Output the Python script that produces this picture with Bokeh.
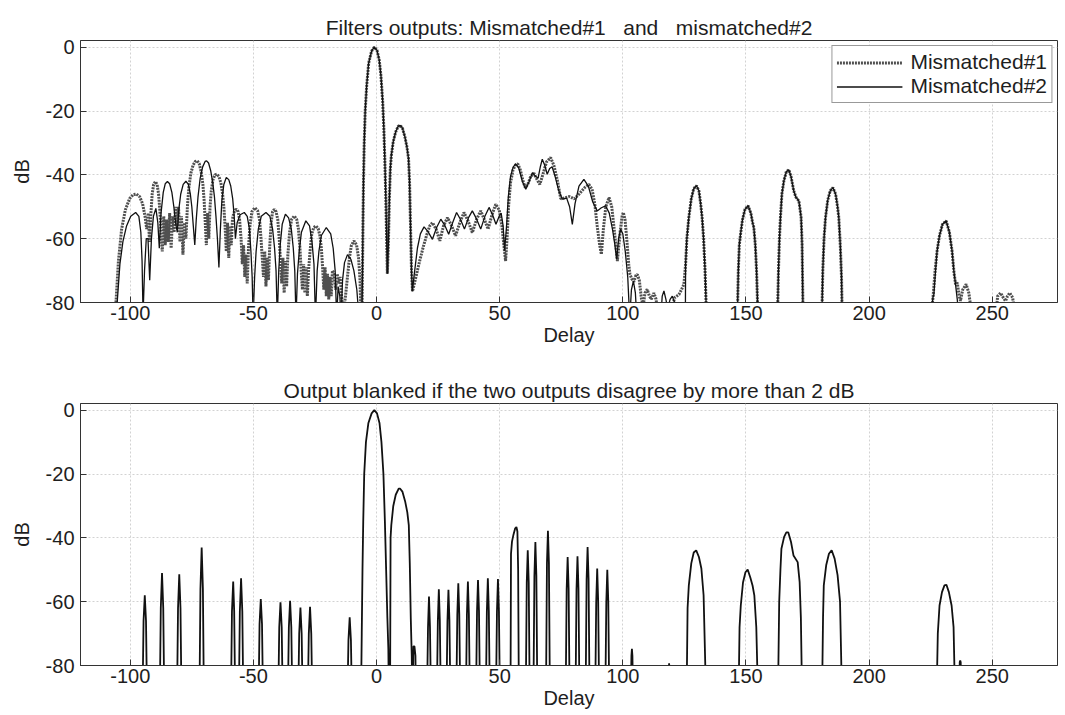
from bokeh.plotting import figure
from bokeh.layouts import column
from bokeh.models import Range1d, FixedTicker, Legend, LegendItem, PrintfTickFormatter
from bokeh.embed import file_html
from bokeh.resources import INLINE

# ---------------- data ----------------
x_ticks = [-100, -50, 0, 50, 100, 150, 200, 250]
y_ticks = [-80, -60, -40, -20, 0]
title_top = "Filters outputs: Mismatched#1\u00a0\u00a0\u00a0and\u00a0\u00a0\u00a0mismatched#2"
title_bottom = "Output blanked if the two outputs disagree by more than 2 dB"
series_names = ["Mismatched#1", "Mismatched#2"]

# Mismatched#1 (dotted), (delay, dB)
m1_left = [(-107, -95), (-105.8, -80), (-104.8, -67), (-103.5, -57), (-102, -51), (-100.3, -47.5),
           (-98.8, -46.2), (-97.5, -46), (-96.2, -46.8), (-95.0, -49), (-94.0, -53), (-93.3, -57),
           (-92.7, -52), (-92.2, -61), (-91.6, -52), (-91.1, -46), (-90.5, -43), (-89.8, -42.1),
           (-89.1, -43), (-88.5, -46), (-88.0, -51), (-87.5, -58), (-87.0, -64), (-86.4, -53),
           (-85.8, -62), (-85.2, -54), (-84.6, -61), (-84.0, -52), (-83.4, -63), (-82.8, -53),
           (-82.2, -58), (-81.6, -50), (-81.0, -56), (-80.4, -50), (-79.8, -61), (-79.2, -53),
           (-78.6, -65), (-78.0, -55), (-77.4, -60), (-76.8, -50), (-76.2, -44), (-75.4, -39.5),
           (-74.5, -37), (-73.6, -35.8), (-72.8, -35.6), (-72.0, -36.5), (-71.2, -39), (-70.5, -43),
           (-70.0, -48), (-69.6, -54), (-69.1, -62), (-68.6, -52), (-68.1, -60), (-67.6, -50),
           (-67.1, -45), (-66.4, -41.5), (-65.6, -40), (-64.8, -39.8), (-64.0, -40.5), (-63.2, -42.5),
           (-62.5, -46), (-62.0, -50), (-61.5, -56), (-61.0, -64), (-60.5, -55), (-60.0, -66),
           (-59.5, -56), (-59.0, -62), (-58.5, -54), (-58.0, -52), (-57.4, -51), (-56.8, -50.8),
           (-56.2, -51.5), (-55.6, -54), (-55.0, -60), (-54.5, -68), (-54.0, -62), (-53.5, -72),
           (-53.0, -65), (-52.5, -74), (-52.0, -63), (-51.4, -56), (-50.6, -51.5), (-49.4, -50.3),
           (-48.3, -51.2), (-47.5, -54), (-46.9, -60), (-46.4, -66), (-45.9, -72), (-45.4, -64),
           (-44.9, -75), (-44.4, -66), (-43.9, -73), (-43.4, -63), (-42.8, -55), (-42.2, -51.5),
           (-41.5, -50.8), (-40.8, -51.5), (-40.1, -54), (-39.5, -60), (-39.0, -67), (-38.5, -74),
           (-38.0, -66), (-37.5, -77), (-37.0, -67), (-36.5, -75), (-36.0, -65), (-35.3, -58),
           (-34.5, -54), (-33.4, -52.9), (-32.4, -54), (-31.7, -57), (-31.1, -63), (-30.6, -70),
           (-30.1, -76), (-29.6, -68), (-29.1, -77), (-28.6, -69), (-28.1, -78), (-27.6, -70),
           (-27.0, -64), (-26.3, -58.5), (-25.5, -56.5), (-24.6, -56), (-23.7, -56.8), (-23.0, -59),
           (-22.4, -63), (-21.9, -69), (-21.4, -76), (-20.9, -69), (-20.4, -78), (-19.9, -71),
           (-19.4, -79), (-18.9, -72), (-18.4, -78), (-17.9, -70), (-17.2, -71), (-16.6, -76),
           (-16.0, -71), (-15.4, -74), (-14.8, -72), (-14.2, -78), (-13.6, -84), (-12.6, -78),
           (-11.8, -72), (-11.0, -66), (-10.2, -62), (-9.1, -60.7), (-8.1, -62), (-7.3, -66),
           (-6.7, -73), (-6.3, -85)]
m1_main = [(-5.9, -85), (-5.7, -70), (-5.5, -55), (-5.3, -42), (-5.0, -30), (-4.6, -20), (-4.0, -12),
           (-3.2, -5), (-2.0, -1.2), (-0.9, 0), (0.2, -1), (1.1, -4), (1.8, -9), (2.5, -17), (3.0, -26),
           (3.4, -36), (3.8, -48), (4.1, -60), (4.4, -71), (4.8, -62), (5.2, -48), (5.6, -38),
           (6.0, -34), (6.8, -29.5), (7.8, -26.5), (8.8, -24.8), (9.6, -24.5), (10.5, -25.3),
           (11.5, -28), (12.4, -31.5), (13.0, -35), (13.4, -42), (13.8, -56), (14.2, -70), (14.6, -76.5)]
m1_mid = [(16.0, -72), (17.5, -67), (19.0, -62.5), (20.5, -58.5), (21.6, -56), (22.7, -55), (24.2, -57),
          (25.7, -60.7), (27.2, -56), (28.8, -53.4), (30.4, -55.8), (32.1, -59.1), (33.8, -55),
          (35.5, -51.8), (37.2, -54.5), (38.9, -58.1), (40.6, -54), (42.3, -51.3), (43.8, -54),
          (45.3, -57), (46.9, -52.5), (48.4, -49.2), (49.8, -51), (50.9, -56), (51.7, -62), (52.4, -67),
          (53.0, -60), (53.6, -50), (54.4, -42.5), (55.4, -38.5), (56.5, -36.8), (57.4, -36.6),
          (58.4, -38.5), (59.5, -42), (60.4, -44), (61.4, -43), (62.6, -40.5), (63.9, -39.5),
          (65.2, -41.5), (66.3, -43), (67.5, -40), (69.0, -36), (70.7, -34.6), (72.0, -37), (73.5, -42),
          (74.8, -47.5), (76.5, -47.2), (78.3, -46.8), (80.3, -47.5), (82.3, -46), (84.5, -44),
          (86.2, -43), (87.5, -44.5), (88.6, -49), (89.6, -56), (90.6, -62), (91.3, -64.9), (92.1, -57),
          (93.1, -50), (94.4, -47.1), (95.5, -50), (96.5, -57), (97.8, -67), (98.9, -58), (99.7, -53),
          (100.2, -51.8), (100.9, -54), (101.7, -61), (102.4, -68), (102.9, -71.2), (103.6, -72.5),
          (104.5, -73.5), (105.3, -71.5), (105.9, -71.2), (106.7, -73), (107.6, -79), (108.3, -81),
          (109.0, -77), (109.9, -75.9), (110.8, -78), (111.6, -79), (112.6, -77), (113.5, -79),
          (114.3, -84), (119.5, -84), (121.0, -78.5), (122.8, -77.5), (123.8, -76), (124.8, -74.3)]
m1_right = [(125.5, -68), (126.0, -60), (126.8, -53.4), (127.8, -47.5), (128.8, -44.3), (129.9, -43.4),
            (130.9, -45), (131.6, -49), (132.2, -53.4), (132.8, -60), (133.4, -70), (134.0, -85),
            (146.5, -85), (146.9, -70), (147.3, -62), (147.8, -58.6), (148.6, -54), (149.6, -50.8),
            (150.9, -49.7), (152.0, -52), (152.7, -55), (153.2, -56.5), (153.8, -62), (154.3, -70),
            (154.9, -85), (162.8, -85), (163.2, -70), (163.6, -60), (164.0, -53.4), (164.6, -46),
            (165.4, -41.9), (166.4, -39), (167.4, -38.4), (168.3, -40.5), (169.4, -45), (170.3, -47),
            (171.5, -48.2), (172.0, -51), (172.4, -53.4), (172.8, -62), (173.2, -85), (180.8, -85),
            (181.2, -70), (181.7, -60), (182.3, -53.4), (183.2, -48), (184.2, -45), (185.3, -44),
            (186.4, -46), (187.2, -50), (187.7, -53.4), (188.3, -62), (188.8, -72), (189.1, -85),
            (225.0, -85), (226.0, -78), (226.8, -70), (227.6, -63.9), (228.6, -59), (229.8, -55.5),
            (231.3, -54.4), (232.6, -58), (233.7, -63.9), (234.4, -70), (235.1, -74.3), (235.8, -73.8),
            (236.6, -78), (237.1, -79.5), (238.0, -76), (239.4, -74.3), (240.5, -77), (241.9, -85),
            (251.3, -85), (252.2, -78), (253.4, -77), (254.5, -78.5), (255.4, -79.5), (256.2, -78),
            (257.1, -77), (258.3, -78.5), (259.4, -85)]

# Mismatched#2 (solid), (delay, dB)
m2_left = [(-106.5, -95), (-105.3, -80), (-104.2, -68), (-103, -61), (-101.5, -56), (-99.8, -53),
           (-97.8, -51.8), (-96.5, -53), (-95.7, -58), (-95.2, -67), (-94.8, -84), (-94.2, -70),
           (-93.5, -60), (-92.8, -60), (-92.1, -73), (-91.4, -60), (-90.6, -53), (-89.6, -50.5),
           (-88.8, -55), (-88.2, -63), (-87.5, -52), (-86.6, -45.5), (-85.8, -42.8), (-84.9, -42.1),
           (-84.0, -42.8), (-83.1, -45.5), (-82.3, -50), (-81.6, -55), (-80.9, -58), (-80.3, -51),
           (-79.5, -46), (-78.5, -43), (-77.4, -42), (-76.4, -43), (-75.6, -46), (-75.0, -50),
           (-74.4, -56), (-73.8, -62), (-73.2, -54), (-72.5, -47), (-71.6, -41), (-70.6, -37.5),
           (-69.6, -35.8), (-69.0, -35.6), (-68.2, -36.3), (-67.3, -38.8), (-66.5, -42.5), (-65.8, -47),
           (-65.2, -53), (-64.6, -60), (-64.0, -69), (-63.4, -57), (-62.8, -48), (-62.0, -43),
           (-61.0, -40.8), (-60.0, -41.5), (-59.2, -43.5), (-58.4, -47.5), (-57.8, -53), (-57.3, -60),
           (-56.6, -55), (-55.4, -52.5), (-53.7, -51.8), (-52.5, -53), (-51.6, -57), (-51.0, -64),
           (-50.5, -72), (-50.1, -85), (-49.5, -72), (-48.9, -64), (-48.0, -57), (-46.8, -53),
           (-44.9, -51.8), (-43.3, -53), (-42.2, -57), (-41.4, -63), (-40.8, -70), (-40.3, -85),
           (-39.7, -70), (-39.1, -62), (-38.3, -55.5), (-37.0, -52.3), (-35.7, -53.5), (-34.6, -57),
           (-33.8, -63), (-33.2, -70), (-32.7, -85), (-32.1, -71), (-31.4, -64), (-30.5, -58),
           (-28.7, -54.4), (-27.2, -56), (-26.2, -61), (-25.4, -68), (-24.8, -85), (-24.1, -70),
           (-23.4, -64), (-22.4, -59), (-20.4, -56.5), (-18.6, -58.5), (-17.6, -63), (-16.8, -70),
           (-16.2, -85), (-15.6, -75), (-14.9, -78), (-14.4, -85), (-13.8, -73), (-13.0, -67.5),
           (-11.8, -65), (-10.4, -66.5), (-9.2, -70), (-8.0, -76), (-7.1, -85)]
m2_main = [(-5.9, -85), (-5.7, -70), (-5.5, -55), (-5.3, -42), (-5.0, -30), (-4.6, -20), (-4.0, -12),
           (-3.2, -5), (-2.0, -1.2), (-0.9, 0), (0.2, -1), (1.1, -4), (1.8, -9), (2.5, -17), (3.0, -26),
           (3.4, -36), (3.8, -48), (4.1, -60), (4.4, -71), (4.8, -62), (5.2, -48), (5.6, -38),
           (6.0, -34), (6.8, -29.5), (7.8, -26.5), (8.8, -24.8), (9.6, -24.5), (10.5, -25.3),
           (11.5, -28), (12.4, -31.5), (13.0, -35), (13.4, -42), (13.8, -56), (14.2, -70), (14.5, -76.5)]
m2_mid = [(15.5, -70), (16.6, -63), (17.8, -58.5), (19.3, -56.3), (20.9, -57.8), (22.7, -60.2),
          (24.4, -56.5), (26.1, -53.9), (27.7, -55.8), (29.3, -58.6), (30.9, -55), (32.5, -51.8),
          (34.1, -54), (35.7, -57), (37.3, -53.5), (38.9, -51.3), (40.6, -53.8), (42.3, -57),
          (44.0, -53), (45.7, -50.2), (47.1, -52.5), (48.5, -55.5), (49.8, -53), (50.6, -52),
          (51.4, -56), (52.0, -63.8), (52.8, -56), (53.5, -47), (54.4, -40.5), (55.5, -37.5),
          (56.6, -36.6), (57.8, -38), (59.2, -42), (60.6, -44.5), (62.0, -42), (63.3, -39.3),
          (64.6, -40.5), (65.6, -41), (66.5, -37.5), (67.3, -35.1), (68.3, -37), (69.3, -39.8),
          (70.3, -38), (71.3, -37.5), (72.5, -40.5), (74.0, -45), (75.4, -47.6), (77.2, -47.3),
          (78.4, -50), (79.5, -55.5), (80.6, -49), (82.2, -43.5), (84.2, -41.4), (86.0, -43.5),
          (87.8, -48.5), (89.6, -51.3), (91.3, -50.3), (93.0, -49.7), (94.5, -52), (95.8, -57),
          (96.8, -62), (97.5, -66.5), (98.3, -60), (99.1, -57), (100.0, -58.5), (101.0, -64),
          (102.0, -72), (102.8, -85), (103.5, -76), (104.3, -73.3), (105.1, -77), (105.7, -85),
          (115.4, -85), (116.0, -78), (116.7, -76.4), (117.5, -79), (118.2, -82), (119.2, -79),
          (120.1, -78), (121.0, -80), (121.8, -85), (125.4, -85)]
m2_right = [(125.5, -68), (126.0, -60), (126.8, -53.4), (127.8, -47.5), (128.8, -44.3), (129.9, -43.4),
            (130.9, -45), (131.6, -49), (132.2, -53.4), (132.8, -60), (133.4, -70), (134.0, -85),
            (146.5, -85), (146.9, -70), (147.3, -62), (147.8, -58.6), (148.6, -54), (149.6, -50.8),
            (150.9, -49.7), (152.0, -52), (152.7, -55), (153.2, -56.5), (153.8, -62), (154.3, -70),
            (154.9, -85), (162.8, -85), (163.2, -70), (163.6, -60), (164.0, -53.4), (164.6, -46),
            (165.4, -41.9), (166.4, -39), (167.4, -38.4), (168.3, -40.5), (169.4, -45), (170.3, -47),
            (171.5, -48.2), (172.0, -51), (172.4, -53.4), (172.8, -62), (173.2, -85), (180.8, -85),
            (181.2, -70), (181.7, -60), (182.3, -53.4), (183.2, -48), (184.2, -45), (185.3, -44),
            (186.4, -46), (187.2, -50), (187.7, -53.4), (188.3, -62), (188.8, -72), (189.1, -85),
            (225.3, -85), (225.9, -78.5), (226.3, -77.5), (226.8, -72), (227.6, -63.9), (228.6, -59),
            (229.8, -55.5), (231.3, -54.4), (232.6, -58), (233.7, -63.9), (234.4, -70), (235.1, -74.3),
            (235.8, -79), (236.4, -85)]

# Blanked output, (delay, dB)
out_left = [(-95.0, -90), (-94.6, -66), (-94.1, -58), (-93.6, -66), (-93.2, -90),
            (-88.0, -90), (-87.6, -62), (-87.1, -51), (-86.6, -62), (-86.2, -90),
            (-81.0, -90), (-80.6, -62), (-80.1, -51.4), (-79.6, -62), (-79.2, -90),
            (-71.9, -90), (-71.5, -56), (-71.0, -43), (-70.5, -56), (-70.1, -90),
            (-59.1, -90), (-58.7, -63), (-58.2, -53.7), (-57.8, -63), (-57.4, -90),
            (-55.9, -90), (-55.5, -63), (-55.0, -52.7), (-54.5, -63), (-54.1, -90),
            (-47.9, -90), (-47.5, -67), (-47.0, -59.2), (-46.5, -67), (-46.1, -90),
            (-39.9, -90), (-39.5, -68), (-39.0, -60.2), (-38.5, -68), (-38.1, -90),
            (-36.0, -90), (-35.6, -68), (-35.1, -59.7), (-34.6, -68), (-34.2, -90),
            (-31.8, -90), (-31.4, -70), (-30.9, -61.8), (-30.4, -70), (-30.0, -90),
            (-27.9, -90), (-27.5, -70), (-27.0, -61.6), (-26.5, -70), (-26.1, -90),
            (-11.8, -90), (-11.4, -72), (-10.9, -64.9), (-10.4, -72), (-10.0, -90)]
out_main = [(-6.3, -90), (-6.0, -70), (-5.7, -50), (-5.4, -35), (-5.0, -20), (-4.3, -10), (-3.3, -4),
            (-2.0, -1), (-0.9, 0), (0.2, -1), (1.2, -4), (2.0, -10), (2.8, -20), (3.4, -35), (3.9, -50),
            (4.4, -65), (4.8, -75), (5.0, -90), (5.5, -90), (5.7, -40), (6.0, -36), (6.8, -30),
            (7.8, -26.5), (9.0, -24.6), (9.6, -24.6), (10.5, -25.5), (11.6, -28.5), (12.5, -32),
            (13.1, -36), (13.5, -48), (13.9, -65), (14.3, -77), (14.5, -90), (14.7, -90), (15.0, -74),
            (15.4, -74), (15.8, -77), (16.0, -90)]
out_mid = [(20.5, -90), (20.9, -68), (21.3, -58.4), (21.7, -68), (22.1, -90),
           (24.5, -90), (24.9, -66), (25.3, -56.1), (25.7, -66), (26.1, -90),
           (28.4, -90), (28.8, -66), (29.2, -56.3), (29.6, -66), (30.0, -90),
           (32.4, -90), (32.8, -64), (33.2, -54.2), (33.6, -64), (34.0, -90),
           (36.3, -90), (36.7, -64), (37.1, -53.7), (37.5, -64), (37.9, -90),
           (40.4, -90), (40.8, -63), (41.2, -53.2), (41.6, -63), (42.0, -90),
           (44.4, -90), (44.8, -63), (45.2, -52.7), (45.6, -63), (46.0, -90),
           (48.5, -90), (48.9, -63), (49.3, -52.9), (49.7, -63), (50.1, -90),
           (54.4, -90), (54.6, -45), (55.0, -41.2), (55.6, -39), (56.3, -37), (56.8, -36.6),
           (57.2, -38), (57.5, -50), (57.8, -90),
           (60.6, -90), (61.0, -54), (61.4, -43.9), (61.8, -54), (62.2, -90),
           (63.7, -90), (64.1, -52), (64.5, -41.3), (64.9, -52), (65.3, -90),
           (68.8, -90), (69.2, -48), (69.6, -37.8), (70.0, -48), (70.4, -90),
           (76.8, -90), (77.2, -56), (77.6, -46), (78.0, -56), (78.4, -90),
           (80.8, -90), (81.2, -56), (81.6, -45.8), (82.0, -56), (82.4, -90),
           (84.9, -90), (85.3, -53), (85.7, -42.9), (86.1, -53), (86.5, -90),
           (88.8, -90), (89.2, -60), (89.6, -49.6), (90.0, -60), (90.4, -90),
           (92.9, -90), (93.3, -60), (93.7, -50), (94.1, -60), (94.5, -90),
           (103.2, -90), (103.5, -77), (103.7, -74.8), (103.9, -77), (104.2, -90),
           (118.5, -90), (118.7, -80.5), (118.8, -79.3), (118.9, -80.5), (119.1, -90)]
out_right = [(125.9, -90), (126.3, -62), (126.8, -54.9), (127.8, -48), (128.8, -44.6), (129.8, -43.9),
             (130.9, -46), (131.9, -49.6), (132.8, -58), (133.8, -90),
             (147.0, -90), (147.4, -68), (147.9, -61.2), (148.8, -54), (149.8, -50.8), (150.7, -49.9),
             (151.8, -52.5), (152.7, -55), (153.4, -58), (154.2, -68), (154.9, -90),
             (163.0, -90), (163.5, -60), (164.0, -50), (164.4, -43.4), (165.5, -39.7), (166.4, -38.3),
             (167.2, -38.3), (168.3, -41.3), (169.3, -45.5), (171.0, -47.6), (171.8, -53.9),
             (172.3, -65), (172.8, -90),
             (180.9, -90), (181.3, -65), (181.6, -54.9), (182.6, -48.5), (183.7, -45), (184.8, -43.9),
             (186.0, -46.5), (187.2, -51.7), (188.2, -60), (189.0, -90),
             (227.4, -90), (227.9, -70), (228.6, -61.2), (229.6, -57), (230.6, -54.9), (231.4, -54.7),
             (232.4, -57), (233.5, -61.2), (234.3, -68), (234.9, -90),
             (236.6, -90), (236.8, -79), (237.0, -78.4), (237.2, -79), (237.4, -90)]

m1_pts = m1_left + m1_main + m1_mid + m1_right
m2_pts = m2_left + m2_main + m2_mid + m2_right
out_pts = out_left + out_main + out_mid + out_right

FONT = "Liberation Sans"
TXT = "#1e1e1e"


def style(p, title):
    p.title.text = title
    p.title.align = "center"
    p.title.text_font = FONT
    p.title.text_font_size = "21px"
    p.title.text_font_style = "normal"
    p.title.text_color = TXT
    p.title.standoff = 4
    p.xaxis.ticker = FixedTicker(ticks=x_ticks)
    p.yaxis.ticker = FixedTicker(ticks=y_ticks)
    p.xaxis.axis_label = "Delay"
    p.yaxis.axis_label = "dB"
    for ax in (p.xaxis[0], p.yaxis[0]):
        ax.formatter = PrintfTickFormatter(format="%d")
        ax.major_label_text_font = FONT
        ax.major_label_text_font_size = "20px"
        ax.major_label_text_color = TXT
        ax.axis_label_text_font = FONT
        ax.axis_label_text_font_size = "20px"
        ax.axis_label_text_font_style = "normal"
        ax.axis_label_text_color = TXT
        ax.major_tick_in = 6
        ax.major_tick_out = 0
        ax.minor_tick_line_color = None
        ax.axis_line_color = "#333333"
        ax.major_tick_line_color = "#333333"
    p.xaxis.major_label_standoff = 3
    p.xaxis.axis_label_standoff = 1
    p.yaxis.major_label_standoff = 6
    p.yaxis.axis_label_standoff = 10
    p.xgrid.grid_line_color = "#d2d2d2"
    p.ygrid.grid_line_color = "#d2d2d2"
    p.xgrid.grid_line_dash = "2 2"
    p.ygrid.grid_line_dash = "2 2"
    p.outline_line_color = "#333333"
    p.background_fill_color = "white"
    p.border_fill_color = "white"


p1 = figure(width=1065, height=357, output_backend="svg", toolbar_location=None,
            x_range=Range1d(-120.2, 276.5), y_range=Range1d(-80, 2.1),
            min_border_left=80, min_border_right=8, min_border_top=40, min_border_bottom=55)
style(p1, title_top)
r1 = p1.line([a for a, b in m1_pts], [b for a, b in m1_pts], line_color="#505050",
             line_width=3, line_dash="2 1")
r2 = p1.line([a for a, b in m2_pts], [b for a, b in m2_pts], line_color="#111111", line_width=1.3)
legend = Legend(items=[LegendItem(label=series_names[0], renderers=[r1]),
                       LegendItem(label=series_names[1], renderers=[r2])],
                location="top_right", margin=5, padding=4, spacing=0,
                glyph_width=66, glyph_height=21, label_height=21, label_standoff=8,
                label_text_font=FONT, label_text_font_size="21px", label_text_color=TXT,
                border_line_color="#333333", background_fill_alpha=1.0)
p1.add_layout(legend)

p2 = figure(width=1065, height=358, output_backend="svg", toolbar_location=None,
            x_range=Range1d(-120.2, 276.5), y_range=Range1d(-80, 2.1),
            min_border_left=80, min_border_right=8, min_border_top=46, min_border_bottom=50)
style(p2, title_bottom)
p2.line([a for a, b in out_pts], [b for a, b in out_pts], line_color="#111111", line_width=1.8)

layout = column(p1, p2, spacing=0)
open("out.html", "w").write(file_html(layout, INLINE))
